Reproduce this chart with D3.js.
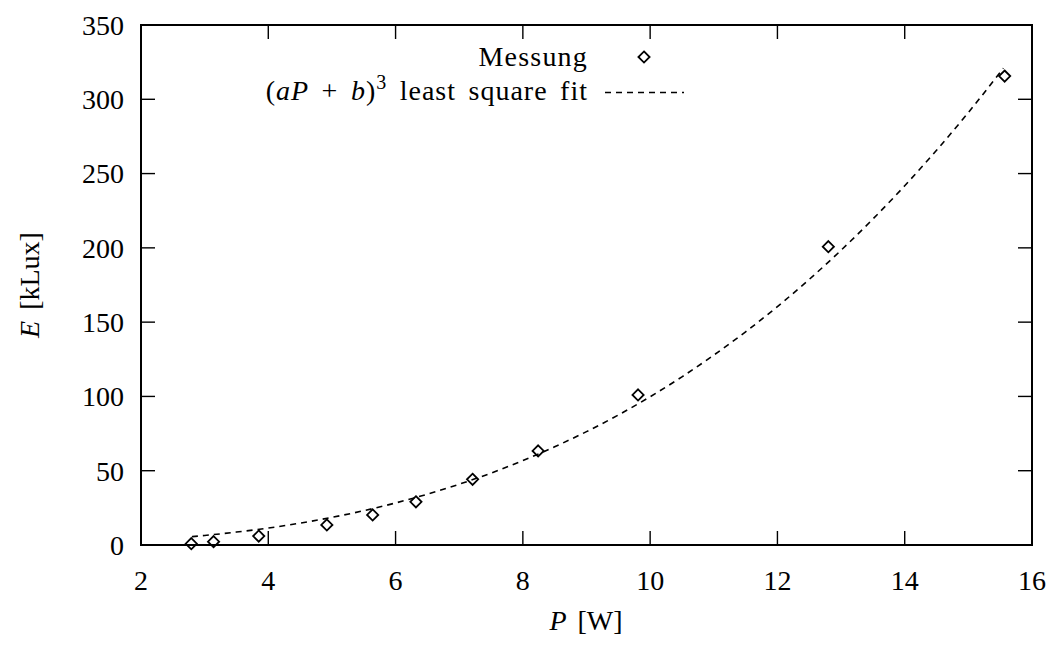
<!DOCTYPE html>
<html>
<head>
<meta charset="utf-8">
<script src="https://cdn.jsdelivr.net/npm/d3@7"></script>
<style>
  html, body { margin: 0; padding: 0; background: #fff; }
  svg { display: block; font-family: "Liberation Serif", "DejaVu Serif", serif; }
</style>
</head>
<body>
<svg id="chart" width="1051" height="646"></svg>
<script>
// Measured data ("Messung")
const measP = [2.79, 3.14, 3.85, 4.92, 5.64, 6.32, 7.21, 8.24, 9.81, 12.80, 15.57];
const measE = [0.9, 2.2, 6.0, 13.5, 20.2, 29.1, 44.2, 63.3, 101.0, 200.8, 315.6];

// Fit curve (aP+b)^3
const fitP = [2.8, 3.0, 3.5, 4.0, 4.5, 5.0, 5.5, 6.0, 6.5, 7.0, 7.5, 8.0, 8.5, 9.0, 9.5, 10.0,
              10.5, 11.0, 11.5, 12.0, 12.5, 13.0, 13.5, 14.0, 14.5, 15.0, 15.55];
const fitE = [5.6, 6.4, 8.7, 11.4, 14.7, 18.6, 23.1, 28.3, 34.2, 40.9, 48.4, 56.8, 66.1, 76.3, 87.5, 99.8,
              113.2, 127.8, 143.5, 160.5, 178.8, 198.4, 219.4, 241.8, 265.7, 291.1, 320.9];

const xTicks = [2, 4, 6, 8, 10, 12, 14, 16];
const yTicks = [0, 50, 100, 150, 200, 250, 300, 350];

const svg = d3.select("#chart");
const L = 141, R = 1032, T = 25, B = 545;
const x = d3.scaleLinear().domain([2, 16]).range([L, R]);
const y = d3.scaleLinear().domain([0, 350]).range([B, T]);
const tickLen = 14;
const fs = 28;

// ticks (all four sides, inward)
const tk = svg.append("g").attr("stroke", "#000").attr("stroke-width", 1.4);
xTicks.forEach(v => {
  tk.append("line").attr("x1", x(v)).attr("x2", x(v)).attr("y1", B).attr("y2", B - tickLen);
  tk.append("line").attr("x1", x(v)).attr("x2", x(v)).attr("y1", T).attr("y2", T + tickLen);
});
yTicks.forEach(v => {
  tk.append("line").attr("x1", L).attr("x2", L + tickLen).attr("y1", y(v)).attr("y2", y(v));
  tk.append("line").attr("x1", R).attr("x2", R - tickLen).attr("y1", y(v)).attr("y2", y(v));
});

// tick labels
svg.append("g").selectAll("text").data(xTicks).join("text")
  .attr("x", d => x(d)).attr("y", 590).attr("text-anchor", "middle")
  .attr("font-size", fs).text(d => d);
svg.append("g").selectAll("text").data(yTicks).join("text")
  .attr("x", 124).attr("y", d => y(d)).attr("dy", "0.35em").attr("text-anchor", "end")
  .attr("font-size", fs).text(d => d);

// axis titles
const xl = svg.append("text").attr("x", 586).attr("y", 630).attr("text-anchor", "middle")
  .attr("font-size", fs).attr("word-spacing", 4);
xl.append("tspan").attr("font-style", "italic").text("P");
xl.append("tspan").text(" [W]");
const yl = svg.append("text").attr("transform", "translate(39,285) rotate(-90)")
  .attr("text-anchor", "middle").attr("font-size", fs).attr("word-spacing", 4);
yl.append("tspan").attr("font-style", "italic").text("E");
yl.append("tspan").text(" [kLux]");

// fit curve
const line = d3.line().x((d, i) => x(fitP[i])).y((d, i) => y(fitE[i])).curve(d3.curveMonotoneX);
svg.append("path").datum(fitE).attr("d", line).attr("fill", "none")
  .attr("stroke", "#000").attr("stroke-width", 1.6).attr("stroke-dasharray", "6,5");

// measurement diamonds
const diamond = d3.symbol().type(d3.symbolDiamond2).size(80);
svg.append("g").selectAll("path").data(measE).join("path")
  .attr("transform", (d, i) => `translate(${x(measP[i])},${y(d)})`)
  .attr("d", diamond).attr("fill", "none").attr("stroke", "#000").attr("stroke-width", 1.8);

// legend
svg.append("text").attr("x", 588).attr("y", 66).attr("text-anchor", "end")
  .attr("font-size", fs).attr("letter-spacing", 1.2).text("Messung");
svg.append("path").attr("transform", "translate(644,57)").attr("d", diamond)
  .attr("fill", "none").attr("stroke", "#000").attr("stroke-width", 1.8);
const l2 = svg.append("text").attr("x", 588).attr("y", 100).attr("text-anchor", "end")
  .attr("font-size", fs).attr("word-spacing", 4.5).attr("letter-spacing", 1);
l2.append("tspan").text("(");
l2.append("tspan").attr("font-style", "italic").text("aP");
l2.append("tspan").text(" + ");
l2.append("tspan").attr("font-style", "italic").text("b");
l2.append("tspan").text(")");
l2.append("tspan").attr("font-size", 20).attr("dy", -11).text("3");
l2.append("tspan").attr("dy", 11).text(" least square fit");
svg.append("line").attr("x1", 605).attr("x2", 684).attr("y1", 92.5).attr("y2", 92.5)
  .attr("stroke", "#000").attr("stroke-width", 1.6).attr("stroke-dasharray", "6,5");

// frame
svg.append("rect").attr("x", L).attr("y", T).attr("width", R - L).attr("height", B - T)
  .attr("fill", "none").attr("stroke", "#000").attr("stroke-width", 2);
</script>
</body>
</html>
